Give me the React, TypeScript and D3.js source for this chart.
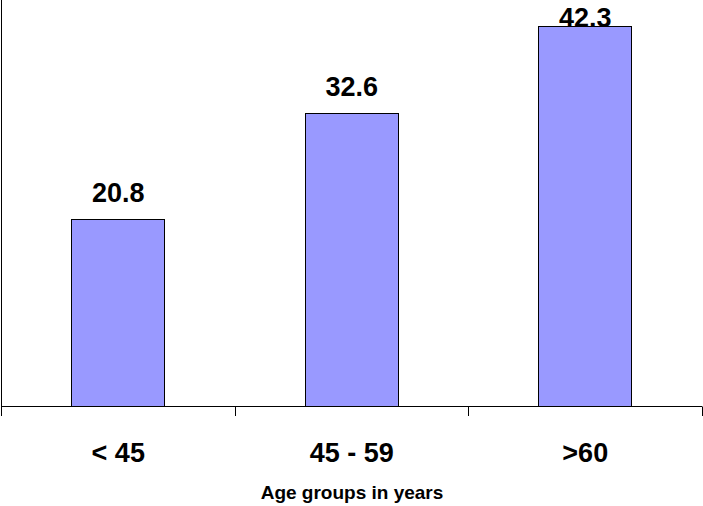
import React from "react";
import * as d3 from "d3";

const categories = ["< 45", "45 - 59", ">60"];
const values = [20.8, 32.6, 42.3];
const axisTitle = "Age groups in years";

const W = 703;
const H = 506;
const baseY = 406.5;
const leftX = 1.5;

export default function App() {
  const x = d3.scaleBand<string>().domain(categories).range([leftX, 702]).paddingInner(0.6).paddingOuter(0.3);
  const y = d3.scaleLinear().domain([0, 45]).range([baseY, 1.5]);
  const step = x.step();
  const tickXs = d3.range(categories.length + 1).map((i) => leftX + i * step);
  const font = "'Liberation Sans', Arial, sans-serif";
  return (
    <svg width={W} height={H} style={{ position: "absolute", left: 0, top: 0, background: "#fff" }}>
      {categories.map((c, i) => {
        const bx = x(c)!;
        const by = y(values[i]);
        return (
          <g key={c}>
            <rect x={Math.floor(bx) + 0.5} y={Math.round(by) + 0.5} width={Math.round(x.bandwidth())} height={baseY - Math.round(by) - 0.5} fill="#9999FF" stroke="#000" strokeWidth={1} />
            <text x={bx + x.bandwidth() / 2} y={Math.max(by - 17, 27)} textAnchor="middle" fontFamily={font} fontWeight="bold" fontSize={27} fill="#000">
              {values[i].toFixed(1)}
            </text>
            <text x={bx + x.bandwidth() / 2} y={461.5} textAnchor="middle" fontFamily={font} fontWeight="bold" fontSize={27} fill="#000">
              {c}
            </text>
          </g>
        );
      })}
      <line x1={leftX} x2={leftX} y1={0} y2={416} stroke="#000" strokeWidth={1} />
      <line x1={leftX} x2={702} y1={baseY} y2={baseY} stroke="#000" strokeWidth={1} />
      {tickXs.map((tx, i) => (
        <line key={i} x1={Math.floor(tx) + 0.5} x2={Math.floor(tx) + 0.5} y1={baseY} y2={416} stroke="#000" strokeWidth={1} />
      ))}
      <text x={352} y={499} textAnchor="middle" fontFamily={font} fontWeight="bold" fontSize={19} fill="#000">
        {axisTitle}
      </text>
    </svg>
  );
}
